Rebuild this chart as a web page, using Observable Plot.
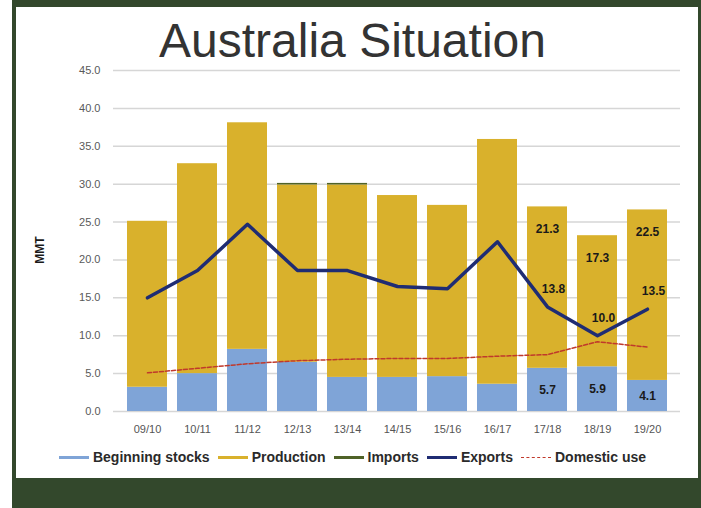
<!DOCTYPE html>
<html>
<head>
<meta charset="utf-8">
<script src="https://cdn.jsdelivr.net/npm/d3@7"></script>
<script src="https://cdn.jsdelivr.net/npm/@observablehq/plot@0.6"></script>
<style>
  html, body { margin: 0; padding: 0; background: #ffffff; }
  #wrap { position: relative; width: 701px; height: 508px; overflow: hidden; background: #ffffff;
          font-family: "Liberation Sans", Arial, sans-serif; }
  #frame { position: absolute; left: 12px; top: 0; width: 689px; height: 508px; background: #33482c; }
  #slide { position: absolute; left: 16px; top: 7px; width: 682px; height: 471px; background: #ffffff; }
  #title { position: absolute; left: 0; width: 705px; top: 13px; text-align: center; font-size: 48px;
           color: #333333; line-height: 56px; }
  #chart { position: absolute; left: 0; top: 60px; }
  #ylabel { position: absolute; left: 40px; top: 250px; transform: translate(-50%, -50%) rotate(-90deg);
            font-size: 12px; font-weight: bold; color: #1a1a1a; white-space: nowrap; }
  #legend { position: absolute; left: 0; width: 705px; top: 449px; display: flex; justify-content: center;
            align-items: center; font-size: 14px; font-weight: bold; color: #2a2a2a; }
  .item { display: flex; align-items: center; margin: 0 4px; }
  .sw { width: 30px; height: 0; margin-right: 4px; }
</style>
</head>
<body>
<div id="wrap">
  <div id="frame"></div>
  <div id="slide"></div>
  <div id="chart"></div>
  <div id="title">Australia Situation</div>
  <div id="ylabel">MMT</div>
  <div id="legend"></div>
</div>
<script>
const years = ["09/10","10/11","11/12","12/13","13/14","14/15","15/16","16/17","17/18","18/19","19/20"];
const beginningStocks = [3.2, 5.0, 8.2, 6.5, 4.5, 4.5, 4.6, 3.6, 5.7, 5.9, 4.1];
const production      = [21.9, 27.7, 29.9, 23.4, 25.4, 24.0, 22.6, 32.3, 21.3, 17.3, 22.5];
const imports         = [0, 0, 0, 0.2, 0.2, 0, 0, 0, 0, 0, 0];
const exportsVals     = [15.0, 18.6, 24.7, 18.6, 18.6, 16.5, 16.2, 22.4, 13.8, 10.0, 13.5];
const domesticUse     = [5.1, 5.7, 6.3, 6.7, 6.9, 7.0, 7.0, 7.3, 7.5, 9.2, 8.5];
const labeledYears    = ["17/18","18/19","19/20"];
const yTicks          = [0, 5, 10, 15, 20, 25, 30, 35, 40, 45];
const seriesNames     = ["Beginning stocks", "Production", "Imports", "Exports", "Domestic use"];
const seriesColors    = ["#7fa4d7", "#d9b12c", "#4f6228", "#1f2c73", "#c0392b"];

const barSeries = [
  ["Beginning stocks", beginningStocks],
  ["Production", production],
  ["Imports", imports]
];
const barRows = [];
for (const [name, vals] of barSeries) {
  years.forEach((yr, i) => barRows.push({year: yr, series: name, value: vals[i]}));
}
const lineRows = years.map((yr, i) => ({year: yr, exp: exportsVals[i], dom: domesticUse[i]}));
const labelRows = years.map((yr, i) => ({
  year: yr, stocks: beginningStocks[i], prod: production[i],
  top: beginningStocks[i] + production[i] + imports[i], exp: exportsVals[i]
})).filter(d => labeledYears.includes(d.year));

const lbl = {fontWeight: "bold", fontSize: 12, fill: "#1a1a1a"};

const chart = Plot.plot({
  width: 701,
  height: 385,
  marginLeft: 113,
  marginRight: 21,
  marginTop: 10,
  marginBottom: 34,
  style: {background: "transparent", fontFamily: "'Liberation Sans', Arial, sans-serif", fontSize: "11px", overflow: "visible"},
  x: {domain: years, padding: 0.2, label: null},
  y: {domain: [0, 45], label: null},
  color: {domain: seriesNames, range: seriesColors},
  marks: [
    Plot.gridY(yTicks, {stroke: "#d6d6d6", strokeOpacity: 1, strokeWidth: 1.5}),
    Plot.axisY({ticks: yTicks, tickFormat: d => d.toFixed(1), tickSize: 0, tickPadding: 13, fill: "#595959", label: null}),
    Plot.axisX({tickSize: 0, tickPadding: 14, fill: "#555555", label: null}),
    Plot.barY(barRows, {x: "year", y: "value", fill: "series", order: seriesNames}),
    Plot.lineY(lineRows, {x: "year", y: "dom", stroke: seriesColors[4], strokeWidth: 1.5, strokeDasharray: "4,2"}),
    Plot.lineY(lineRows, {x: "year", y: "exp", stroke: seriesColors[3], strokeWidth: 3.5}),
    Plot.text(labelRows, {x: "year", y: d => d.stocks / 2, text: d => d.stocks.toFixed(1), ...lbl}),
    Plot.text(labelRows, {x: "year", y: "top", text: d => d.prod.toFixed(1), dy: 22, ...lbl}),
    Plot.text(labelRows, {x: "year", y: "exp", text: d => d.exp.toFixed(1), dy: -18, dx: 6, ...lbl})
  ]
});
document.getElementById("chart").appendChild(chart);

const legend = document.getElementById("legend");
seriesNames.forEach((name, i) => {
  const item = document.createElement("div");
  item.className = "item";
  const sw = document.createElement("div");
  sw.className = "sw";
  if (name === "Domestic use") {
    sw.style.borderTop = "1px dashed " + seriesColors[i];
  } else {
    sw.style.borderTop = "3px solid " + seriesColors[i];
  }
  const t = document.createElement("span");
  t.textContent = name;
  item.appendChild(sw);
  item.appendChild(t);
  legend.appendChild(item);
});
</script>
</body>
</html>
